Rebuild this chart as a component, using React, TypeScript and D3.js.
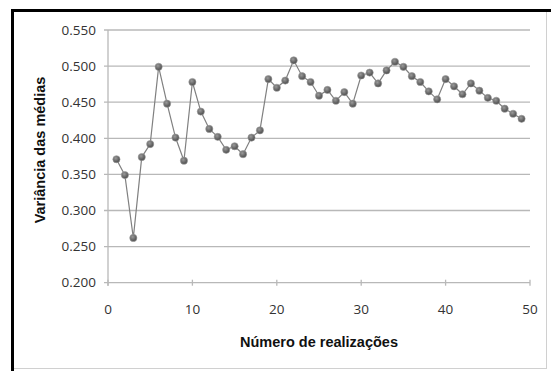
import React from "react";
import * as d3 from "d3";

const realizacoes: number[] = Array.from({ length: 49 }, (_, i) => i + 1);
const variancia: number[] = [
  0.371, 0.349, 0.262, 0.374, 0.392, 0.499, 0.448, 0.401, 0.369, 0.478,
  0.437, 0.413, 0.402, 0.384, 0.389, 0.378, 0.401, 0.411, 0.482, 0.470,
  0.480, 0.508, 0.486, 0.478, 0.459, 0.467, 0.452, 0.464, 0.448, 0.487,
  0.491, 0.476, 0.494, 0.506, 0.499, 0.486, 0.478, 0.465, 0.454, 0.482,
  0.472, 0.461, 0.476, 0.466, 0.456, 0.452, 0.441, 0.434, 0.427,
];
const yTicks: number[] = [0.2, 0.25, 0.3, 0.35, 0.4, 0.45, 0.5, 0.55];
const xTicks: number[] = [0, 10, 20, 30, 40, 50];

const W = 551;
const H = 371;
const left = 108;
const right = 530;
const top = 30;
const bottom = 282.7;

export default function App() {
  const x = d3.scaleLinear().domain([0, 50]).range([left, right]);
  const y = d3.scaleLinear().domain([0.2, 0.55]).range([bottom, top]);
  const data = realizacoes.map((r, i) => [r, variancia[i]] as [number, number]);
  const line = d3
    .line<[number, number]>()
    .x((d) => x(d[0]))
    .y((d) => y(d[1]));

  return (
    <svg
      width={W}
      height={H}
      style={{ position: "absolute", left: 0, top: 0, background: "#fff" }}
    >
      <defs>
        <radialGradient id="mk" cx="40%" cy="35%" r="65%">
          <stop offset="0%" stopColor="#9a9a9a" />
          <stop offset="100%" stopColor="#4a4a4a" />
        </radialGradient>
      </defs>
      {/* frame */}
      <line x1={546.5} y1={10} x2={546.5} y2={369} stroke="#d0d0d0" strokeWidth={1} />
      <line x1={12} y1={368.5} x2={547} y2={368.5} stroke="#d0d0d0" strokeWidth={1} />
      <line x1={12.5} y1={10} x2={12.5} y2={371} stroke="#000" strokeWidth={3} />
      <line x1={11} y1={10.5} x2={551} y2={10.5} stroke="#000" strokeWidth={3} />

      {/* gridlines */}
      {yTicks.map((t) => (
        <g key={"y" + t}>
          <line
            x1={left - 4}
            x2={right}
            y1={y(t)}
            y2={y(t)}
            stroke="#b8b8b8"
            strokeWidth={1.3}
          />
          <text
            x={96}
            y={y(t)}
            dy="0.35em"
            textAnchor="end"
            fontFamily="'Open Sans', sans-serif"
            fontSize={13.5}
            fill="#333"
          >
            {t.toFixed(3)}
          </text>
        </g>
      ))}
      <line x1={left} x2={left} y1={top} y2={bottom + 3} stroke="#b8b8b8" strokeWidth={1.3} />
      {xTicks.map((t) => (
        <g key={"x" + t}>
          <line x1={x(t)} x2={x(t)} y1={bottom - 3} y2={bottom + 3} stroke="#b8b8b8" strokeWidth={1.3} />
          <text
            x={x(t)}
            y={314}
            textAnchor="middle"
            fontFamily="'Open Sans', sans-serif"
            fontSize={13.5}
            fill="#333"
          >
            {t}
          </text>
        </g>
      ))}

      {/* series */}
      <path d={line(data) || ""} fill="none" stroke="#808080" strokeWidth={1.2} />
      {data.map((d, i) => (
        <circle
          key={i}
          cx={x(d[0])}
          cy={y(d[1])}
          r={3.6}
          fill="url(#mk)"
          stroke="#9c9c9c"
          strokeWidth={0.6}
        />
      ))}

      {/* titles */}
      <text
        x={319}
        y={347}
        textAnchor="middle"
        fontFamily="'Liberation Sans', Arial, sans-serif"
        fontWeight="bold"
        fontSize={14.5}
        fill="#111"
      >
        Número de realizações
      </text>
      <text
        transform="translate(45,150) rotate(-90)"
        textAnchor="middle"
        fontFamily="'Liberation Sans', Arial, sans-serif"
        fontWeight="bold"
        fontSize={14.5}
        fill="#111"
      >
        Variância das médias
      </text>
    </svg>
  );
}
